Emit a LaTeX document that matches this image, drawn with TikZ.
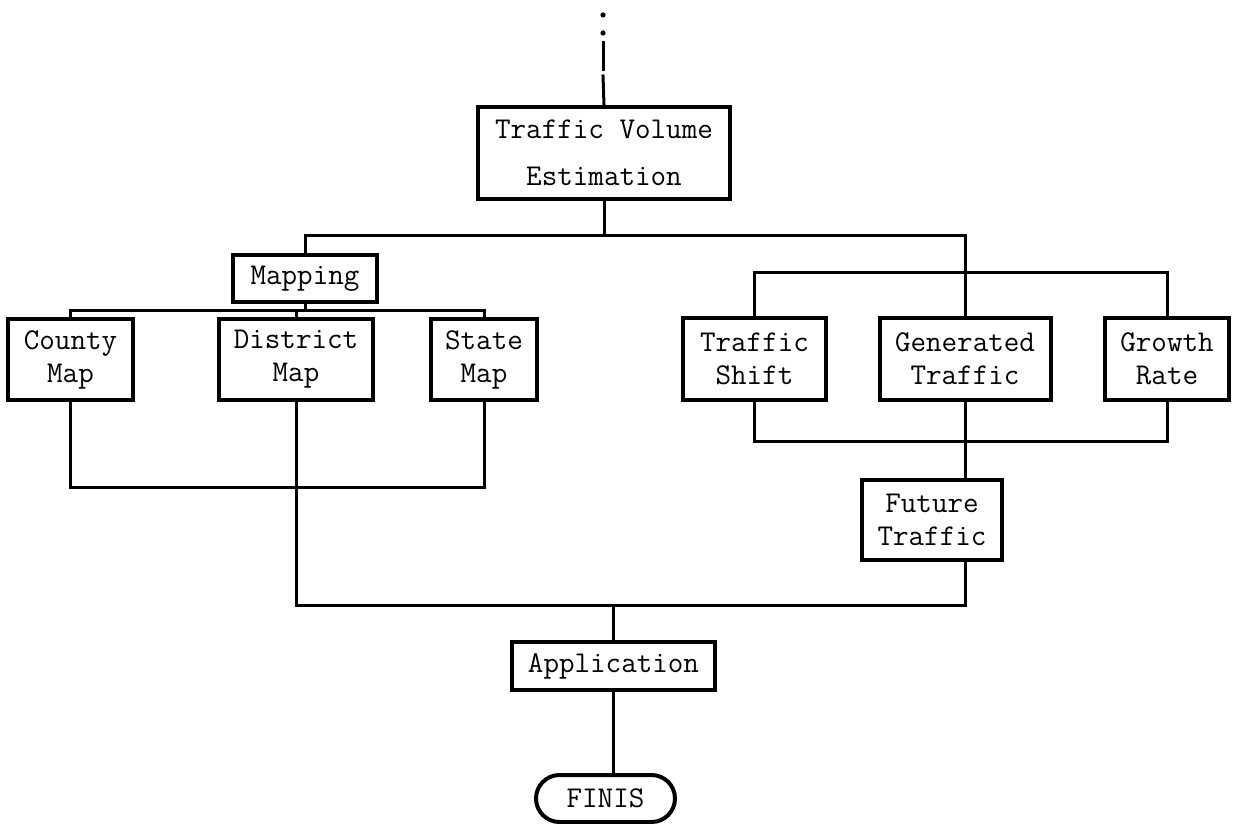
\documentclass[tikz,border=0pt]{standalone}
\usepackage{fontspec}
\usetikzlibrary{shapes.misc}
\begin{document}
\begin{tikzpicture}[x=0.5pt,y=-0.5pt,
  box/.style={draw, line width=2pt, inner sep=0pt, align=center,
    font=\ttfamily\fontsize{15.1}{16.5}\selectfont},
  wire/.style={line width=1.5pt, line cap=rect}]
\useasboundingbox[fill=white] (0,0) rectangle (1236,824);
% nodes
\node[box, minimum width=126pt, minimum height=46pt,
  font=\ttfamily\fontsize{15.1}{23.5}\selectfont] (tve) at (604,153) {Traffic Volume\\Estimation};
\node[box, minimum width=72pt, minimum height=23.5pt] (map) at (305,278.5) {Mapping};
\node[box, minimum width=62.5pt, minimum height=40.5pt] (county) at (70.5,359.5) {County\\Map};
\node[box, minimum width=77pt, minimum height=40.5pt] (district) at (296,359.5) {District\\Map};
\node[box, minimum width=53pt, minimum height=40.5pt] (state) at (484,359.5) {State\\Map};
\node[box, minimum width=71.5pt, minimum height=41pt] (shift) at (754.5,359) {Traffic\\Shift};
\node[box, minimum width=85.5pt, minimum height=41pt] (gen) at (965,359) {Generated\\Traffic};
\node[box, minimum width=62pt, minimum height=41pt] (growth) at (1167,359) {Growth\\Rate};
\node[box, minimum width=70pt, minimum height=40pt] (future) at (932,520) {Future\\Traffic};
\node[box, minimum width=101.5pt, minimum height=24pt] (app) at (613.5,666) {Application};
\node[box, rounded rectangle, minimum width=69.5pt, minimum height=23.5pt] (finis) at (605.5,798.5) {FINIS};
% junction coordinates
\coordinate (d1) at (603,15);
\coordinate (d2) at (603,33);
\coordinate (s1) at (603,43);
\coordinate (s2) at (603,70);
\coordinate (s3) at (603,76);
\coordinate (jtop) at (604,235);
\coordinate (jR) at (965,235);
\coordinate (jRtop) at (965,272);
\coordinate (jRbot) at (965,441);
\coordinate (jm) at (305,310);
\coordinate (jc) at (296,487);
\coordinate (jbot) at (613.5,605);
% top entry
\fill (d1) circle (1.3pt);
\fill (d2) circle (1.3pt);
\draw[wire] (s1) -- (s2);
\draw[wire] (s3) -- (tve.north);
% connectors
\draw[wire] (tve.south) -- (jtop);
\draw[wire] (map.north) -- (map.north |- jtop) -- (jR) -- (jRtop);
\draw[wire] (shift.north) -- (shift.north |- jRtop) -- (growth.north |- jRtop) -- (growth.north);
\draw[wire] (gen.north) -- (gen.north |- jRtop);
\draw[wire] (shift.south) -- (shift.south |- jRbot) -- (growth.south |- jRbot) -- (growth.south);
\draw[wire] (gen.south) -- (jRbot) -- (jRbot |- future.north);
\draw[wire] (jRbot |- future.south) -- (jRbot |- jbot) -- (district.south |- jbot) -- (district.south);
\draw[wire] (jbot) -- (app.north);
\draw[wire] (app.south) -- (app.south |- finis.north);
\draw[wire] (map.south) -- (jm);
\draw[wire] (county.north) -- (county.north |- jm) -- (state.north |- jm) -- (state.north);
\draw[wire] (district.north) -- (district.north |- jm);
\draw[wire] (county.south) -- (county.south |- jc) -- (state.south |- jc) -- (state.south);
\end{tikzpicture}
\end{document}
